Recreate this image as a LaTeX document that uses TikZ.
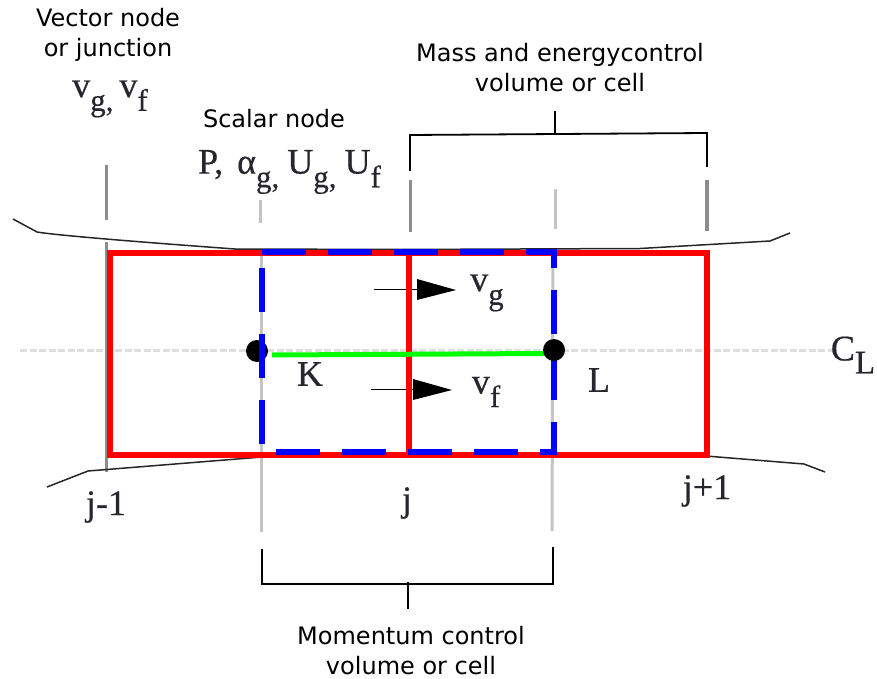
\documentclass[tikz,border=0pt]{standalone}
\usepackage{fontspec}
\setmainfont{DejaVu Sans}
\newfontfamily\serifpart[FakeBold=0.5]{Liberation Serif}
\definecolor{inkserif}{HTML}{26262E}
\definecolor{palegrey}{HTML}{C4C4C4}
\definecolor{midgrey}{HTML}{8C8C8C}
\definecolor{clgrey}{HTML}{DEDEDE}
\newcommand{\lowsub}[1]{\raisebox{-0.38em}{\fontsize{31}{31}\selectfont #1}}
\tikzset{
  caption/.style={inner sep=0pt,align=center,font=\fontsize{24}{30}\selectfont,text=black},
  symb/.style={inner sep=0pt,font=\serifpart\fontsize{36}{36}\selectfont,text=inkserif},
  wall/.style={draw=black!85,line width=1.5pt},
  brack/.style={draw=black,line width=1.8pt,line cap=butt},
  gridpale/.style={draw=palegrey,line width=3pt},
  gridmid/.style={draw=midgrey,line width=3.4pt},
  redcell/.style={draw=red,line width=6pt,line join=miter},
  bluecell/.style={draw=blue,line width=6pt,dash pattern=on 44pt off 22pt},
  flowtail/.style={draw=black,line width=1.5pt},
  flowhead/.style={fill=black,draw=none},
}
\begin{document}
\begin{tikzpicture}[x=1pt,y=-1pt]
\useasboundingbox (0,0) rectangle (877,679);
% centre line
\draw[draw=clgrey,line width=2.5pt,dash pattern=on 7pt off 2.5pt] (20,350.5) -- (835,350.5);
% grid lines
\draw[gridmid] (106.5,165) -- (106.5,220);
\draw[gridmid] (106.5,242) -- (106.5,472);
\draw[gridpale] (260,200) -- (260,223);
\draw[gridpale] (261,250) -- (261,532);
\draw[gridmid] (410.5,180) -- (410.5,232);
\draw[gridpale] (555,189) -- (555,229);
\draw[gridpale] (553,252) -- (552,531);
\draw[gridmid] (707,180) -- (707,231);
% walls
\draw[wall] (13,219) -- (37,232) .. controls (60,236) and (180,245) .. (235,249) -- (400,249.5) -- (640,248.5) -- (770,241) -- (790,233);
\draw[wall] (47,487) -- (88,471) -- (262,457) -- (706,456) -- (804,464) -- (825,472);
% flow tails and left dot
\draw[flowtail] (374,289.5) -- (418,289.5);
\draw[flowtail] (371,389.5) -- (414,389.5);
\fill[black] (257,351) circle (11);
% cells
\draw[redcell] (109.5,252.5) rectangle (707,454.5);
\draw[redcell] (409,252.5) -- (409,454.5);
\draw[green,line width=5pt] (272,355) -- (545,353.5);
\draw[bluecell] (262,252) -- (554,252) -- (554,452) -- (262,452) -- cycle;
\fill[black] (554,350) circle (11);
% brackets
\draw[brack] (410,171) -- (410,135) -- (707,133) -- (707,167);
\draw[brack] (555,111) -- (555,133);
\draw[brack] (262,549) -- (262,584) -- (553,584) -- (553,547);
\draw[brack] (408,582) -- (408,609);
% flow heads
\fill[flowhead] (417,279) -- (456,290) -- (417,300) -- cycle;
\fill[flowhead] (413,379) -- (452,390) -- (413,400) -- cycle;
% captions
\node[caption] (vecCap) at (108,35) {Vector node\\or junction};
\node[caption] (scaCap) at (274,119) {Scalar node};
\node[caption] (massCap) at (560,68) {Mass and energycontrol\\volume or cell};
\node[caption] (momCap) at (411,651) {Momentum control\\volume or cell};
% symbols
\node[symb] (vecSym) at (110,99) {v\lowsub{g,}\hspace{6pt}v\lowsub{f}};
\node[symb] (scaSym) at (289.5,172) {P,\hspace{5pt} α\lowsub{g,}\hspace{8pt}U\lowsub{g,}\hspace{8pt}U\lowsub{f}};
\node[symb] (vgSym) at (487,293) {v\lowsub{g}};
\node[symb] (vfSym) at (486,392) {v\lowsub{f}};
\node[symb] (kSym) at (310,374) {K};
\node[symb] (lSym) at (599,380) {L};
\node[symb] (j1Sym) at (106,507) {j-1};
\node[symb] (jSym) at (407,503) {j};
\node[symb] (j2Sym) at (707,491) {j+1};
\node[symb] (clSym) at (853,355) {C\raisebox{-13pt}{\fontsize{33}{33}\selectfont L}};
\end{tikzpicture}
\end{document}
